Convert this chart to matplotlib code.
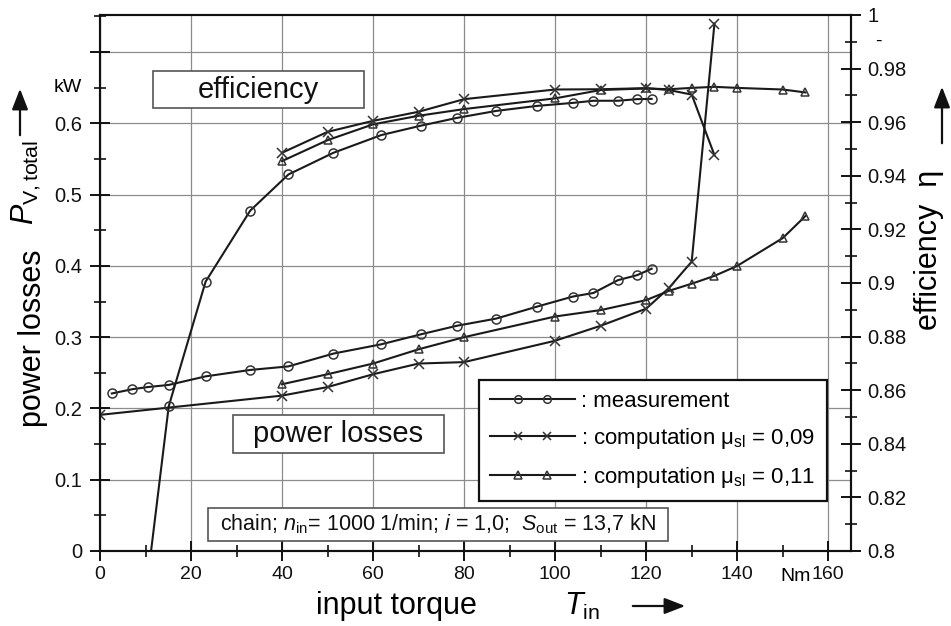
import matplotlib
matplotlib.use("Agg")
import matplotlib.pyplot as plt
from matplotlib.patches import Rectangle, FancyArrowPatch
from matplotlib.legend_handler import HandlerLine2D
from matplotlib.ticker import MultipleLocator, FuncFormatter

plt.rcParams['font.family'] = ['Liberation Sans', 'DejaVu Sans']
plt.rcParams['mathtext.fontset'] = 'custom'
plt.rcParams['mathtext.rm'] = 'Liberation Sans'
plt.rcParams['mathtext.it'] = 'Liberation Sans:italic'
plt.rcParams['mathtext.bf'] = 'Liberation Sans:bold'

# measurement (torque in Nm, power losses in kW, efficiency)
t_meas = [2.6, 7.1, 10.5, 15.1, 23.2, 33.0, 41.4, 51.3, 61.8, 70.5, 78.4, 87.0,
          96.1, 103.9, 108.4, 113.8, 118.0, 121.2]
p_meas = [0.221, 0.227, 0.230, 0.233, 0.245, 0.254, 0.259, 0.277, 0.290, 0.304,
          0.316, 0.326, 0.343, 0.357, 0.362, 0.380, 0.387, 0.396]
t_meas_eta = t_meas[2:]
eta_meas = [0.790, 0.854, 0.9005, 0.927, 0.9405, 0.9486, 0.9552, 0.9587, 0.9616,
            0.9642, 0.9661, 0.9672, 0.968, 0.968, 0.9686, 0.9687]

# computation mu_sl = 0,09
t_c09_p = [0, 40, 50, 60, 70, 80, 100, 110, 120, 125, 130, 135]
p_c09 = [0.191, 0.218, 0.230, 0.248, 0.263, 0.265, 0.295, 0.316, 0.340, 0.369, 0.406, 0.740]
t_c09_eta = [40, 50, 60, 70, 80, 100, 110, 120, 125, 130, 135]
eta_c09 = [0.9486, 0.9564, 0.9605, 0.9639, 0.9686, 0.9722, 0.9723, 0.9727, 0.972,
           0.9703, 0.9477]

# computation mu_sl = 0,11
t_c11 = [40, 50, 60, 70, 80, 100, 110, 120, 125, 130, 135, 140, 150, 155]
p_c11 = [0.234, 0.248, 0.263, 0.283, 0.300, 0.329, 0.338, 0.352, 0.365, 0.375,
         0.386, 0.400, 0.439, 0.470]
eta_c11 = [0.9455, 0.9533, 0.9592, 0.9624, 0.9649, 0.9689, 0.972, 0.9726, 0.9723,
           0.9728, 0.9732, 0.9728, 0.9722, 0.9711]

x_ticks = [0, 20, 40, 60, 80, 100, 120, 140, 160]
legend_labels = [": measurement",
                 ": computation μ$_{\\mathrm{sl}}$ = 0,09",
                 ": computation μ$_{\\mathrm{sl}}$ = 0,11"]

W, H = 951, 626


def fx(x):
    return x / W


def fy(y):
    return 1 - y / H


def text_box(x0, y0, x1, y1, text, fs, ec='#555555', lw=1.2):
    fig.add_artist(Rectangle((fx(x0), fy(y1)), fx(x1) - fx(x0), fy(y0) - fy(y1),
                             transform=fig.transFigure, fc='white', ec=ec, lw=lw))
    fig.text(fx((x0 + x1) / 2), fy((y0 + y1) / 2), text, fontsize=fs,
             ha='center', va='center', color='#111111')


def fig_arrow(x0, y0, x1, y1):
    fig.add_artist(FancyArrowPatch(
        (fx(x0), fy(y0)), (fx(x1), fy(y1)), transform=fig.transFigure,
        arrowstyle='-|>,head_length=0.9,head_width=0.35', mutation_scale=14,
        lw=1.6, color='#111111'))


# legend line over the full handle width, the two markers set inwards
class SpacedMarkers(HandlerLine2D):
    def create_artists(self, legend, orig_handle, xdescent, ydescent, width,
                       height, fontsize, trans):
        arts = super().create_artists(legend, orig_handle, xdescent, ydescent,
                                      width, height, fontsize, trans)
        line = arts[0]
        pad = 1.25 * fontsize
        x0, x1 = -xdescent, -xdescent + width
        y = (height - ydescent) / 2
        line.set_data([x0, x0 + pad, x1 - pad, x1], [y, y, y, y])
        line.set_markevery([1, 2])
        return arts


fig = plt.figure(figsize=(W / 100, H / 100), dpi=100)
ax = fig.add_axes([fx(100), fy(551), fx(851) - fx(100), fy(15) - fy(551)])
ax2 = ax.twinx()

line_kw = dict(color='#1a1a1a', lw=1.5, mec='#333333', mew=1.1, fillstyle='none')

ax.plot(t_meas, p_meas, marker='o', ms=6.5, **line_kw)
ax.plot(t_c09_p, p_c09, marker='x', ms=6.5, **line_kw)
ax.plot(t_c11, p_c11, marker='^', ms=5.5, **line_kw)

h1, = ax2.plot(t_meas_eta, eta_meas, marker='o', ms=6.5, **line_kw)
h2, = ax2.plot(t_c09_eta, eta_c09, marker='x', ms=6.5, **line_kw)
h3, = ax2.plot(t_c11, eta_c11, marker='^', ms=5.5, **line_kw)

ax.set_xticks(x_ticks)
ax.xaxis.set_minor_locator(MultipleLocator(10))
ax.yaxis.set_major_locator(MultipleLocator(0.1))
ax.yaxis.set_minor_locator(MultipleLocator(0.05))
ax2.yaxis.set_major_locator(MultipleLocator(0.02))
ax2.yaxis.set_minor_locator(MultipleLocator(0.01))
ax.xaxis.set_major_formatter(FuncFormatter(lambda v, p: f"{v:g}"))
ax.yaxis.set_major_formatter(FuncFormatter(lambda v, p: f"{v:g}" if v <= 0.7 else ""))
ax2.yaxis.set_major_formatter(FuncFormatter(lambda v, p: f"{v:g}"))
ax.set_xlim(0, 165)
ax.set_ylim(0, 0.752)
ax2.set_ylim(0.8, 1.0)

ax.grid(True, which='major', color='#8c8c8c', lw=0.9)
ax.set_axisbelow(True)

for a in (ax, ax2):
    for s in a.spines.values():
        s.set_linewidth(1.5)
        s.set_color('#111111')
ax.tick_params(which='major', direction='inout', length=14, width=1.4, labelsize=14.5,
               colors='#111111')
ax.tick_params(axis='x', which='major', labelsize=14, pad=4)
ax.tick_params(which='minor', direction='inout', length=8, width=1.2, colors='#111111')
ax.tick_params(axis='y', which='major', pad=6)
ax2.tick_params(which='major', direction='inout', length=14, width=1.4, labelsize=14.5,
                pad=5, colors='#111111')
ax2.tick_params(which='minor', direction='inout', length=8, width=1.2, colors='#111111')

# unit labels in the tick columns
ax.text(-0.0243, 0.65, "kW", transform=ax.get_yaxis_transform(), ha='right',
        va='center', fontsize=14)
ax2.text(1.036, 0.99, "-", transform=ax2.get_yaxis_transform(), ha='center',
         va='center', fontsize=14)
ax.text(152.8, -0.047, "Nm", transform=ax.get_xaxis_transform(), ha='center',
        va='center', fontsize=14)

# axis titles
fig.text(fx(33), fy(338), "power losses", rotation=90, ha='center', va='center',
         fontsize=22)
fig.text(fx(26), fy(182), "$P_{\\mathrm{V,total}}$", rotation=90, ha='center',
         va='center', fontsize=22)
fig_arrow(20, 138, 20, 86)
fig.text(fx(929), fy(250), "efficiency  η", rotation=90, ha='center', va='center',
         fontsize=22)
fig_arrow(942, 146, 942, 84)
fig.text(fx(396), fy(606), "input torque", ha='center', va='center', fontsize=22)
fig.text(fx(582), fy(606), "$T_{\\mathrm{in}}$", ha='center', va='center', fontsize=22)
fig_arrow(630, 606, 688, 606)

text_box(153, 71, 364, 108, "efficiency", 21)
text_box(233, 415, 444, 453, "power losses", 21)
text_box(208, 508, 668, 541,
         "chain; $n_{\\mathrm{in}}$= 1000 1/min; $i$ = 1,0;  $S_{\\mathrm{out}}$ = 13,7 kN",
         15.5)

handler = SpacedMarkers()
leg = fig.legend([h1, h2, h3], legend_labels, loc='upper left',
                 bbox_to_anchor=(fx(479), fy(380)), bbox_transform=fig.transFigure,
                 fontsize=16, handlelength=3.8, handletextpad=0.3, numpoints=2,
                 borderaxespad=0, borderpad=0.5, labelspacing=0.62,
                 fancybox=False, framealpha=1, edgecolor='#111111',
                 handler_map={h1: handler, h2: handler, h3: handler})
leg.get_frame().set_linewidth(1.6)
for lh in leg.legend_handles:
    lh.set_markersize(5.5)

fig.savefig("out.png", dpi=100)
